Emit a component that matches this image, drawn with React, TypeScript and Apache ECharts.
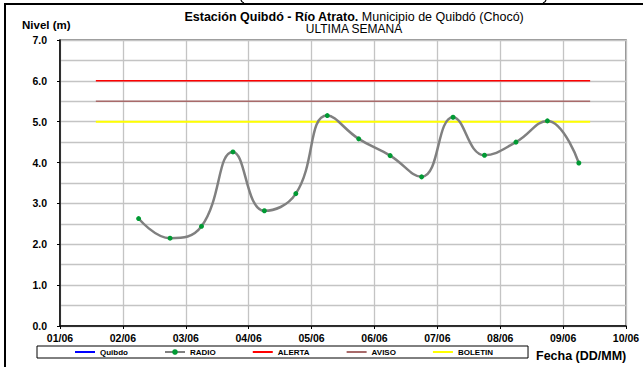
import React, { useEffect, useRef } from "react";
import * as echarts from "echarts";

// Day offsets from 01/06 00:00 of each RADIO reading
const readingDays = [1.25, 1.75, 2.25, 2.75, 3.25, 3.75, 4.25, 4.75, 5.25, 5.75, 6.25, 6.75, 7.25, 7.75, 8.25];
const radioLevels = [2.63, 2.15, 2.44, 4.26, 2.82, 3.24, 5.15, 4.58, 4.17, 3.65, 5.11, 4.18, 4.5, 5.02, 3.99];
const quibdoLevels: number[][] = [];
const thresholdSpan = [0.57, 8.43];
const alertaLevel = 6.0;
const avisoLevel = 5.5;
const boletinLevel = 5.0;
const dateLabels = ["01/06", "02/06", "03/06", "04/06", "05/06", "06/06", "07/06", "08/06", "09/06", "10/06"];
const levelLabels = ["0.0", "1.0", "2.0", "3.0", "4.0", "5.0", "6.0", "7.0"];
const seriesNames = ["Quibdo", "RADIO", "ALERTA", "AVISO", "BOLETIN"];

const FONT = "'Liberation Sans', Arial, sans-serif";

export default function App() {
  const ref = useRef<HTMLDivElement>(null);
  useEffect(() => {
    document.body.style.margin = "0";
    const chart = echarts.init(ref.current!, null, { renderer: "svg" });
    const radioData = readingDays.map((d, i) => [d, radioLevels[i]]);
    const flat = (lvl: number) => thresholdSpan.map((d) => [d, lvl]);
    chart.setOption({
      animation: false,
      backgroundColor: "#ffffff",
      textStyle: { fontFamily: FONT },
      grid: {
        left: 60,
        right: 17,
        top: 40,
        bottom: 41,
        show: true,
        borderColor: "#707070",
        borderWidth: 1.5,
        backgroundColor: "transparent",
      },
      legend: {
        data: seriesNames.map((n) =>
          n === "RADIO" ? { name: n } : { name: n, itemStyle: { opacity: 0 } }
        ),
        left: 37,
        top: 346,
        orient: "horizontal",
        itemWidth: 20,
        itemHeight: 7,
        itemGap: 36,
        padding: [2, 35, 2, 37],
        borderColor: "#000",
        borderWidth: 1,
        borderRadius: 0,
        textStyle: { fontSize: 8, fontWeight: "bold", color: "#000", fontFamily: FONT },
      },
      xAxis: {
        type: "value",
        min: 0,
        max: 9,
        interval: 1,
        axisLine: { show: true, onZero: false, lineStyle: { color: "#000", width: 1.5 } },
        axisTick: { show: true, length: 3, lineStyle: { color: "#000" } },
        axisLabel: {
          margin: 6,
          fontSize: 10.5,
          fontWeight: "bold",
          color: "#000",
          fontFamily: FONT,
          formatter: (v: number) => dateLabels[Math.round(v)] ?? "",
        },
        splitLine: { show: true, lineStyle: { color: "#c4c4c4", width: 1.3 } },
      },
      yAxis: {
        type: "value",
        min: 0,
        max: 7,
        interval: 1,
        axisLine: { show: true, onZero: false, lineStyle: { color: "#000", width: 1.5 } },
        axisTick: { show: true, length: 3, lineStyle: { color: "#000" } },
        axisLabel: {
          margin: 13,
          fontSize: 10.5,
          fontWeight: "bold",
          color: "#000",
          fontFamily: FONT,
          formatter: (v: number) => levelLabels[Math.round(v)] ?? "",
        },
        splitLine: { show: true, lineStyle: { color: "#c4c4c4", width: 1.3 } },
        minorTick: { show: false, splitNumber: 2 },
        minorSplitLine: { show: true, lineStyle: { color: "#c4c4c4", width: 1.3 } },
      },
      graphic: [
        {
          type: "rect",
          shape: { x: 5, y: 4, width: 800, height: 500 },
          style: { fill: "none", stroke: "#000", lineWidth: 2 },
          silent: true,
        },
        {
          type: "bezierCurve",
          shape: { x1: 241, y1: 0, x2: 244, y2: 3, cpx1: 241.5, cpy1: 2 },
          style: { stroke: "#000", lineWidth: 1.2, fill: "none" },
          silent: true,
        },
        {
          type: "bezierCurve",
          shape: { x1: 546, y1: 0, x2: 543, y2: 3, cpx1: 545.5, cpy1: 2 },
          style: { stroke: "#000", lineWidth: 1.2, fill: "none" },
          silent: true,
        },
        {
          type: "text",
          x: 354,
          y: 17,
          style: {
            text: "{b|Estación Quibdó - Río Atrato.} {n|Municipio de Quibdó (Chocó)}",
            textAlign: "center",
            textVerticalAlign: "middle",
            rich: {
              b: { fontSize: 12.5, fontWeight: "bold", fontFamily: FONT, fill: "#000" },
              n: { fontSize: 12.5, fontFamily: FONT, fill: "#000" },
            },
          },
        },
        {
          type: "text",
          x: 354,
          y: 29,
          style: { text: "ULTIMA SEMANA", fontSize: 12, fontFamily: FONT, fill: "#000", textAlign: "center", textVerticalAlign: "middle" },
        },
        {
          type: "text",
          x: 22,
          y: 25,
          style: { text: "Nivel (m)", fontSize: 11.5, fontWeight: "bold", fontFamily: FONT, fill: "#000", textVerticalAlign: "middle" },
        },
        {
          type: "text",
          x: 536,
          y: 356,
          style: { text: "Fecha (DD/MM)", fontSize: 12.5, fontWeight: "bold", fontFamily: FONT, fill: "#000", textVerticalAlign: "middle" },
        },
      ],
      series: [
        {
          name: "Quibdo",
          type: "line",
          data: quibdoLevels,
          symbol: "none",
          color: "#0000ff",
          lineStyle: { color: "#0000ff", width: 3 },
        },
        {
          name: "ALERTA",
          type: "line",
          data: flat(alertaLevel),
          symbol: "none",
          color: "#ff0000",
          lineStyle: { color: "#ff0000", width: 1.5 },
          z: 3,
        },
        {
          name: "AVISO",
          type: "line",
          data: flat(avisoLevel),
          symbol: "none",
          color: "#a86a6a",
          lineStyle: { color: "#a86a6a", width: 1.5 },
          z: 3,
        },
        {
          name: "BOLETIN",
          type: "line",
          data: flat(boletinLevel),
          symbol: "none",
          color: "#ffff00",
          lineStyle: { color: "#ffff00", width: 2 },
          z: 3,
        },
        {
          name: "RADIO",
          type: "line",
          data: radioData,
          smooth: 0.45,
          symbol: "circle",
          symbolSize: 5,
          color: "#808080",
          lineStyle: { color: "#808080", width: 2.5 },
          itemStyle: { color: "#009a33" },
          z: 5,
        },
      ],
    });
    return () => chart.dispose();
  }, []);
  return <div ref={ref} style={{ width: 643, height: 367 }} />;
}
